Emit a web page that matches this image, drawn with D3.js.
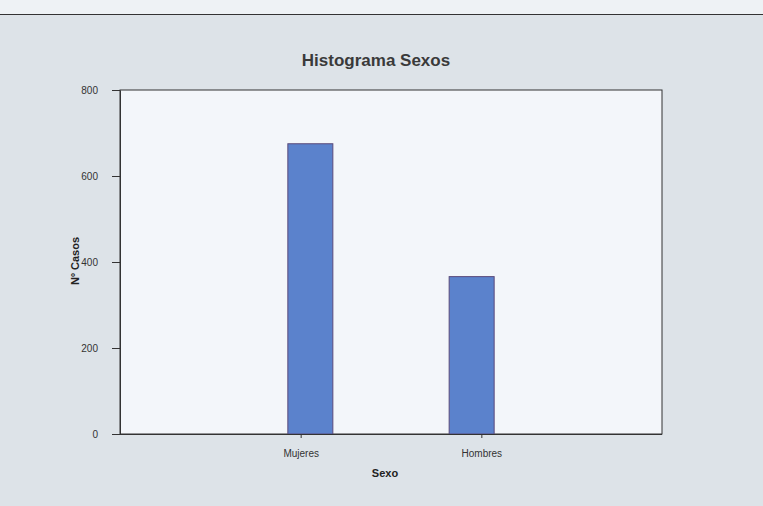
<!DOCTYPE html>
<html>
<head>
<meta charset="utf-8">
<script src="https://d3js.org/d3.v7.min.js"></script>
<style>
  body { margin: 0; background: #dfe4e9; }
  svg { display: block; font-family: "Liberation Sans", Arial, sans-serif; }
</style>
</head>
<body>
<div id="chart"></div>
<script>
// data
var categorias = ["Mujeres", "Hombres"];
var casos = [675, 366];
var yTicks = [0, 200, 400, 600, 800];

var W = 763, H = 506;
var margin = { top: 90, right: 101, bottom: 72, left: 120 },
  width = W - margin.left - margin.right,
  height = H - margin.top - margin.bottom;

var root = d3.select("#chart").append("svg")
  .attr("width", W)
  .attr("height", H);

// page background + strip at top
root.append("rect").attr("width", W).attr("height", H).attr("fill", "#dde3e8");
root.append("rect").attr("width", W).attr("height", 14).attr("fill", "#eef2f5");
root.append("line")
  .attr("x1", 0).attr("x2", W).attr("y1", 14.5).attr("y2", 14.5)
  .attr("stroke", "#333").attr("stroke-width", 1.2);

var svg = root.append("g")
  .attr("transform", "translate(" + margin.left + "," + margin.top + ")");

// plot area
svg.append("rect")
  .attr("width", width).attr("height", height)
  .attr("fill", "#f3f6fa")
  .attr("stroke", "#333").attr("stroke-width", 1);

// axis ticks
var x = d3.scalePoint()
  .domain(categorias)
  .range([0, width])
  .padding(1);

// bars sit a bit closer together than the ticks in the original
var xBar = d3.scalePoint()
  .domain(categorias)
  .range([0, width])
  .padding(1.18);

var y = d3.scaleLinear()
  .domain([0, 800])
  .range([height, 0]);

// bars
var barW = 45;
svg.selectAll("rect.bar")
  .data(categorias)
  .join("rect")
  .attr("class", "bar")
  .attr("x", function (d) { return xBar(d) - barW / 2; })
  .attr("y", function (d, i) { return y(casos[i]); })
  .attr("width", barW)
  .attr("height", function (d, i) { return height - y(casos[i]); })
  .attr("fill", "#5b82cc")
  .attr("stroke", "#5a4a7a")
  .attr("stroke-width", 1);

// y axis
var yAxis = svg.append("g")
  .call(d3.axisLeft(y).tickValues(yTicks).tickSize(8).tickSizeOuter(0).tickPadding(14));
yAxis.select(".domain").attr("stroke", "#333");
yAxis.selectAll("line").attr("stroke", "#333");
yAxis.selectAll("text").attr("font-size", 10).attr("fill", "#333");

// x axis
var xAxis = svg.append("g")
  .attr("transform", "translate(0," + height + ")")
  .call(d3.axisBottom(x).tickSize(4).tickSizeOuter(0).tickPadding(12));
xAxis.select(".domain").attr("stroke", "#333").attr("d", "M-6,0.5H" + width);
xAxis.selectAll("line").attr("stroke", "#333");
xAxis.selectAll("text").attr("font-size", 10).attr("fill", "#333");

// titles
root.append("text")
  .attr("x", 376).attr("y", 66)
  .attr("text-anchor", "middle")
  .attr("font-size", 17).attr("font-weight", "bold")
  .attr("fill", "#3a3a3a")
  .text("Histograma Sexos");

root.append("text")
  .attr("x", 385).attr("y", 477)
  .attr("text-anchor", "middle")
  .attr("font-size", 11).attr("font-weight", "bold")
  .attr("fill", "#222")
  .text("Sexo");

root.append("text")
  .attr("transform", "translate(79,261) rotate(-90)")
  .attr("text-anchor", "middle")
  .attr("font-size", 11).attr("font-weight", "bold")
  .attr("fill", "#222")
  .text("Nº Casos");
</script>
</body>
</html>
